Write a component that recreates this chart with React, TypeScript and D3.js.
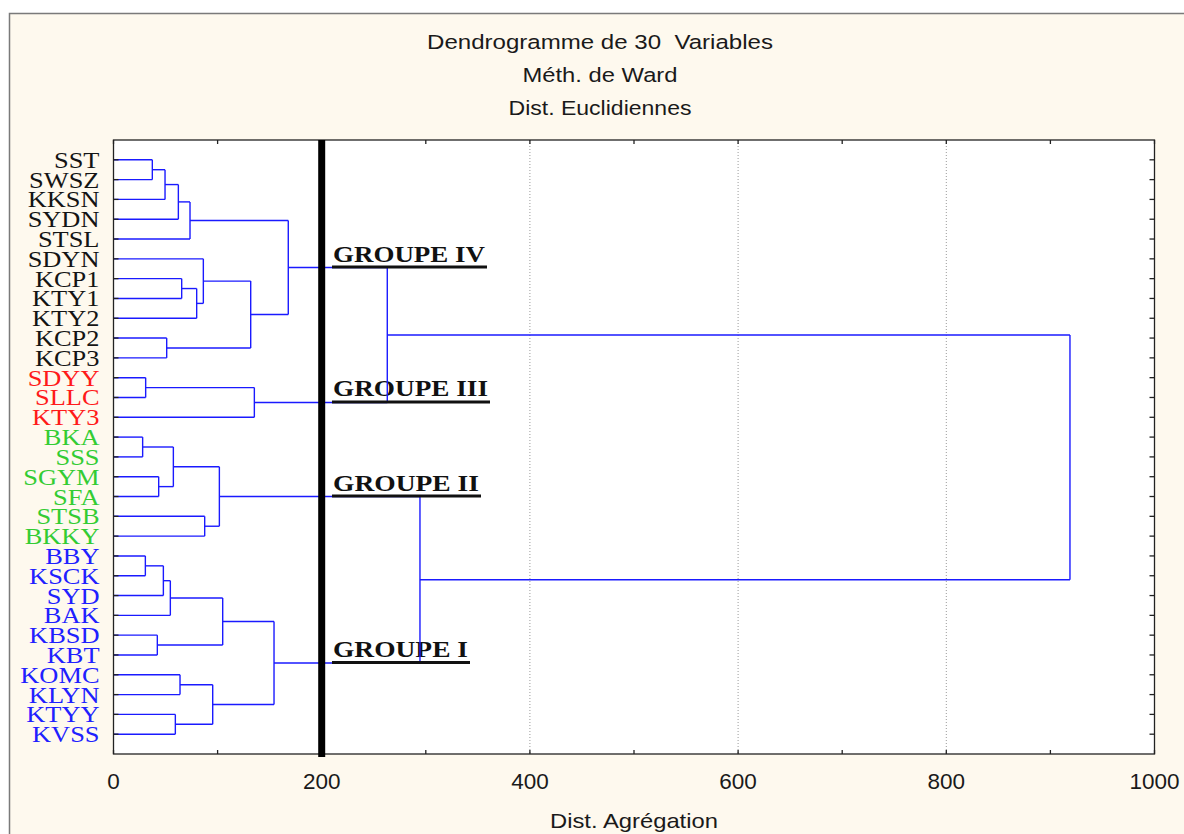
import React from "react";
import * as d3 from "d3";

const leaves = [
  "SST", "SWSZ", "KKSN", "SYDN", "STSL", "SDYN", "KCP1", "KTY1", "KTY2", "KCP2",
  "KCP3", "SDYY", "SLLC", "KTY3", "BKA", "SSS", "SGYM", "SFA", "STSB", "BKKY",
  "BBY", "KSCK", "SYD", "BAK", "KBSD", "KBT", "KOMC", "KLYN", "KTYY", "KVSS",
];
// group of each leaf: 4 = IV (black), 3 = III (red), 2 = II (green), 1 = I (blue)
const leafGroup = [
  4, 4, 4, 4, 4, 4, 4, 4, 4, 4, 4,
  3, 3, 3,
  2, 2, 2, 2, 2, 2,
  1, 1, 1, 1, 1, 1, 1, 1, 1, 1,
];
const groupColors: Record<number, string> = { 4: "#141414", 3: "#ff1a1a", 2: "#33cc33", 1: "#2020ff" };

// merges: [childA, childB, height]; ids < 30 are leaves, merge k has id 30 + k
const merges: [number, number, number][] = [
  [0, 1, 37.3],
  [30, 2, 49.5],
  [31, 3, 62.3],
  [32, 4, 73.5],
  [6, 7, 65.5],
  [34, 8, 79.9],
  [5, 35, 86.3],
  [9, 10, 51.1],
  [36, 37, 131.8],
  [33, 38, 167.9],
  [11, 12, 30.9],
  [40, 13, 135.3],
  [14, 15, 28.0],
  [16, 17, 43.4],
  [42, 43, 57.5],
  [18, 19, 87.6],
  [44, 45, 101.7],
  [20, 21, 30.6],
  [47, 22, 47.9],
  [48, 23, 54.6],
  [24, 25, 42.1],
  [49, 50, 104.9],
  [26, 27, 63.9],
  [28, 29, 59.4],
  [52, 53, 95.3],
  [51, 54, 154.2],
  [39, 41, 263.0],
  [46, 55, 294.4],
  [56, 57, 918.8],
];

const groupNodes = [39, 41, 46, 55];
const groupLabels = ["GROUPE IV", "GROUPE III", "GROUPE II", "GROUPE I"];
const groupLabelWidths = [152, 155, 146, 135];

const xTicks = [0, 200, 400, 600, 800, 1000];
const xMinorTicks = [0, 100, 200, 300, 400, 500, 600, 700, 800, 900, 1000];
const gridValues = [400, 600, 800];
const cutValue = 200;

const titleLines = ["Dendrogramme de 30  Variables", "Méth. de Ward", "Dist. Euclidiennes"];
const titleWidths = [346, 155, 183];
const xTitle = "Dist. Agrégation";

export default function App() {
  const L = 113.5, R = 1154.5, T = 140, B = 754;
  const x = d3.scaleLinear().domain([0, 1000]).range([L, R]);
  const y = d3.scaleLinear().domain([0, leaves.length + 1]).range([T, B]);

  const nodeY: number[] = leaves.map((_, i) => y(i + 1));
  const nodeH: number[] = leaves.map(() => 0);
  merges.forEach(([a, b, h]) => {
    nodeY.push((nodeY[a] + nodeY[b]) / 2);
    nodeH.push(h);
  });

  const lines: JSX.Element[] = [];
  merges.forEach(([a, b, h], k) => {
    const xp = x(h);
    lines.push(<line key={`v${k}`} x1={xp} x2={xp} y1={nodeY[a]} y2={nodeY[b]} />);
    [a, b].forEach((c, j) => {
      lines.push(<line key={`h${k}_${j}`} x1={x(nodeH[c])} x2={xp} y1={nodeY[c]} y2={nodeY[c]} />);
    });
  });

  const serif = "'Liberation Serif', 'Times New Roman', serif";
  const sans = "'Liberation Sans', Arial, sans-serif";

  return (
    <svg width={1184} height={834} style={{ position: "absolute", left: 0, top: 0, display: "block" }}>
      <rect x={0} y={0} width={1184} height={834} fill="#ffffff" />
      <rect x={9.5} y={13.5} width={1190} height={840} fill="#fef9ee" stroke="#7a7a7a" strokeWidth={1.5} />
      {/* title */}
      {titleLines.map((t, i) => (
        <text key={t} x={600} y={49 + i * 33} textAnchor="middle" fontFamily={sans} fontSize={20.5}
          fill="#1a1a1a" textLength={titleWidths[i]} lengthAdjust="spacingAndGlyphs"
          style={{ whiteSpace: "pre" }}>{t}</text>
      ))}
      {/* plot area */}
      <rect x={L} y={T} width={R - L} height={B - T} fill="#ffffff" />
      {gridValues.map((v) => (
        <line key={`g${v}`} x1={x(v)} x2={x(v)} y1={T} y2={B} stroke="#9a9a9a" strokeWidth={1} strokeDasharray="1,2" />
      ))}
      {/* group labels */}
      {groupNodes.map((n, i) => (
        <text key={`gl${i}`} x={333} y={nodeY[n] - 6} fontFamily={serif} fontWeight="bold" fontSize={24}
          fill="#111" textLength={groupLabelWidths[i]} lengthAdjust="spacingAndGlyphs">{groupLabels[i]}</text>
      ))}
      {/* dendrogram */}
      <g stroke="#1a1aff" strokeWidth={1.4} fill="none">{lines}</g>
      {groupNodes.map((n, i) => (
        <line key={`ul${i}`} x1={332} x2={333 + groupLabelWidths[i] + 2} y1={nodeY[n] - 0.5} y2={nodeY[n] - 0.5}
          stroke="#111" strokeWidth={3} />
      ))}
      {/* frame & ticks */}
      <rect x={L} y={T} width={R - L} height={B - T} fill="none" stroke="#222" strokeWidth={1.3} />
      <g stroke="#222" strokeWidth={1.3}>
        {leaves.map((_, i) => (
          <g key={`lt${i}`}>
            <line x1={L} x2={L + 5} y1={y(i + 1)} y2={y(i + 1)} />
            <line x1={R - 5} x2={R} y1={y(i + 1)} y2={y(i + 1)} />
          </g>
        ))}
        {xMinorTicks.map((v) => (
          <g key={`xt${v}`}>
            <line x1={x(v)} x2={x(v)} y1={B} y2={B - 4} />
            <line x1={x(v)} x2={x(v)} y1={T} y2={T + 4} />
          </g>
        ))}
      </g>
      {/* cut line */}
      <line x1={x(cutValue)} x2={x(cutValue)} y1={T} y2={B + 3} stroke="#000" strokeWidth={7} />
      {/* leaf labels */}
      {leaves.map((name, i) => (
        <text key={name} transform={`translate(99.5,${y(i + 1) + 8}) scale(1.1,1)`} textAnchor="end"
          fontFamily={serif} fontSize={24} fill={groupColors[leafGroup[i]]}>{name}</text>
      ))}
      {/* x tick labels */}
      {xTicks.map((v) => (
        <text key={`xl${v}`} x={x(v)} y={789} textAnchor="middle" fontFamily={sans} fontSize={22.5} fill="#1a1a1a">{v}</text>
      ))}
      <text x={(L + R) / 2} y={828} textAnchor="middle" fontFamily={sans} fontSize={21} fill="#1a1a1a"
        textLength={168} lengthAdjust="spacingAndGlyphs">{xTitle}</text>
    </svg>
  );
}
